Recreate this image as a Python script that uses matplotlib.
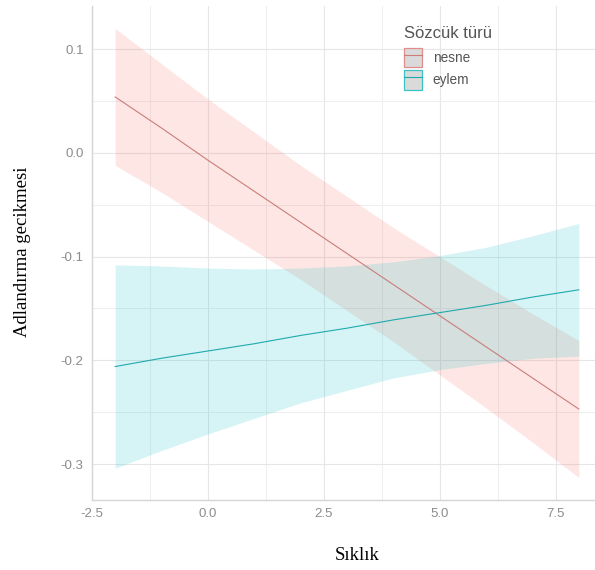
import matplotlib
matplotlib.use("Agg")
import matplotlib.pyplot as plt
from matplotlib.patches import Patch
from matplotlib.lines import Line2D
from matplotlib.legend_handler import HandlerTuple
from matplotlib.ticker import MultipleLocator

# ------------------------
# Data
# ------------------------
siklik = [-2, -1, 0, 1, 2, 3, 4, 5, 6, 7, 8]

nesne_fit = [0.054, 0.024, -0.007, -0.037, -0.067, -0.097, -0.127, -0.157, -0.187, -0.217, -0.247]
nesne_hi = [0.120, 0.086, 0.052, 0.020, -0.012, -0.042, -0.072, -0.100, -0.128, -0.155, -0.181]
nesne_lo = [-0.012, -0.038, -0.066, -0.094, -0.122, -0.152, -0.182, -0.214, -0.246, -0.279, -0.313]

eylem_fit = [-0.206, -0.198, -0.191, -0.184, -0.176, -0.169, -0.161, -0.154, -0.147, -0.139, -0.132]
eylem_hi = [-0.108, -0.109, -0.111, -0.112, -0.111, -0.109, -0.105, -0.099, -0.091, -0.080, -0.068]
eylem_lo = [-0.304, -0.287, -0.271, -0.256, -0.241, -0.229, -0.217, -0.209, -0.203, -0.198, -0.196]

groups = ["nesne", "eylem"]
fill_colors = ["#F8766D", "#00BFC4"]
fill_alpha = [0.18, 0.16]
line_colors = ["#C97E7B", "#1FA9AD"]
key_edges = ["#E08C88", "#3CC3C6"]

xticks = [-2.5, 0.0, 2.5, 5.0, 7.5]
yticks = [0.1, 0.0, -0.1, -0.2, -0.3]

# ------------------------
# Figure
# ------------------------
fig = plt.figure(figsize=(5.95, 5.70), dpi=100)
ax = fig.add_axes([92 / 595, 70 / 570, 510 / 595, 494 / 570])

series = [(nesne_fit, nesne_lo, nesne_hi), (eylem_fit, eylem_lo, eylem_hi)]
for (fit, lo, hi), fc, a in zip(series, fill_colors, fill_alpha):
    ax.fill_between(siklik, lo, hi, color=fc, alpha=a, linewidth=0, zorder=2)
for (fit, lo, hi), lc in zip(series, line_colors):
    ax.plot(siklik, fit, color=lc, linewidth=0.8, zorder=3)

ax.set_xlim(-2.5, 8.5)
ax.set_ylim(-0.3347, 0.1417)
ax.set_xticks(xticks)
ax.set_xticklabels([f"{t:.1f}" for t in xticks])
ax.set_yticks(yticks)
ax.set_yticklabels([f"{t:.1f}" for t in yticks])
ax.xaxis.set_minor_locator(MultipleLocator(1.25))
ax.yaxis.set_minor_locator(MultipleLocator(0.05))

ax.grid(True, which="major", color="#E6E6E6", linewidth=0.8, zorder=0)
ax.grid(True, which="minor", color="#EEEEEE", linewidth=0.7, zorder=0)
ax.set_axisbelow(True)

for side in ["top", "right"]:
    ax.spines[side].set_visible(False)
for side in ["left", "bottom"]:
    ax.spines[side].set_color("#D6D6D6")
    ax.spines[side].set_linewidth(1.0)

ax.tick_params(which="both", length=0, labelsize=9.5, labelcolor="#8C8C8C",
               pad=6)
for lab in ax.get_xticklabels() + ax.get_yticklabels():
    lab.set_family("Liberation Sans")

# axis titles (serif)
fig.text(357 / 595, 1 - 555 / 570, "Sıklık", ha="center", va="center",
         family="Liberation Serif", fontsize=13.5, color="black")
fig.text(23 / 595, 1 - 252 / 570, "Adlandırma gecikmesi", ha="center", va="center",
         rotation=90, family="Liberation Serif", fontsize=13.5, color="black")

# legend
fig.text(404 / 595, 1 - 33 / 570, "Sözcük türü", ha="left", va="center",
         family="Liberation Sans", fontsize=12, color="#555555")
handles = []
for ec, lc in zip(key_edges, line_colors):
    box = Patch(facecolor="#DADADA", edgecolor=ec, linewidth=0.9)
    ln = Line2D([], [], color=lc, linewidth=0.8)
    handles.append((box, ln))
leg = ax.legend(handles, groups,
                handler_map={tuple: HandlerTuple(ndivide=1, pad=0)},
                loc="upper left", bbox_to_anchor=(404 / 595, 1 - 48 / 570),
                bbox_transform=fig.transFigure, frameon=False,
                prop={"family": "Liberation Sans", "size": 9.8},
                handlelength=1.35, handleheight=1.8, handletextpad=0.75,
                labelspacing=0.22, borderaxespad=0, borderpad=0.0)
for t in leg.get_texts():
    t.set_color("#555555")

fig.savefig("out.png", dpi=100)
